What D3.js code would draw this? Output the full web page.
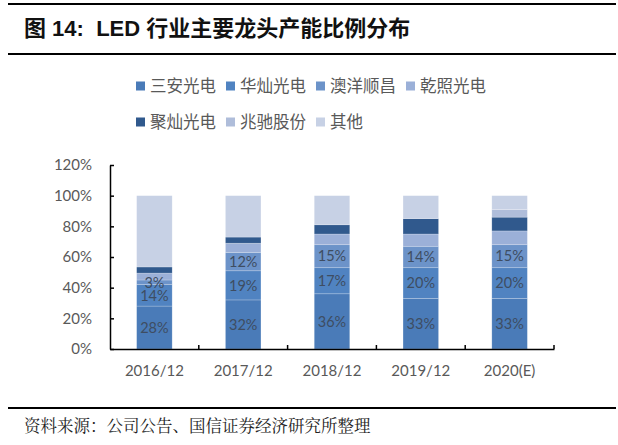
<!DOCTYPE html>
<html><head><meta charset="utf-8">
<script src="https://cdn.jsdelivr.net/npm/d3@7"></script>
<style>
html,body{margin:0;padding:0;background:#fff;}
svg{display:block;}
</style></head>
<body>
<svg id="c" width="618" height="445"></svg>
<script>
const categories = ["2016/12","2017/12","2018/12","2019/12","2020(E)"];
const seriesNames = ["三安光电","华灿光电","澳洋顺昌","乾照光电","聚灿光电","兆驰股份","其他"];
const sanan   = [28, 32, 36, 33, 33];
const huacan  = [14, 19, 17, 20, 20];
const aoyang  = [3, 12, 15, 14, 15];
const qianzhao= [4.5, 6, 7, 8, 9];
const jucan   = [4, 4, 6, 10, 9];
const zhaochi = [0, 0, 0, 0, 5];
const others  = [46.5, 27, 19, 15, 9];
const yTicks = [0, 0.2, 0.4, 0.6, 0.8, 1.0, 1.2];
const labeledSeries = [0, 1, 2];
const colors = ["#4A7BB8","#5083C1","#6C93C9","#9BB0D8","#30598D","#AFBDDA","#C7D1E5"];

const values = [sanan, huacan, aoyang, qianzhao, jucan, zhaochi, others];
const table = categories.map((c, i) => {
  const row = {cat: c};
  seriesNames.forEach((s, j) => row[s] = values[j][i] / 100);
  return row;
});
const stacked = d3.stack().keys(seriesNames)(table);

const svg = d3.select("#c");
const x = d3.scaleBand().domain(categories).range([110, 554]).paddingInner(0.6).paddingOuter(0.3);
const y = d3.scaleLinear().domain([0, 1.2]).range([349, 165]);

// Title block
svg.append("line").attr("x1", 8).attr("x2", 616).attr("y1", 4).attr("y2", 4).attr("stroke", "#000").attr("stroke-width", 2);
svg.append("text").attr("x", 24).attr("y", 36)
  .attr("font-family", "'Liberation Sans','Noto Sans CJK SC',sans-serif")
  .attr("font-weight", "bold").attr("font-size", 22).attr("fill", "#111")
  .style("white-space", "pre")
  .text("图 14:  LED 行业主要龙头产能比例分布");
svg.append("line").attr("x1", 8).attr("x2", 616).attr("y1", 54).attr("y2", 54).attr("stroke", "#000").attr("stroke-width", 2);

// Legend
const legendPos = [[136,86],[226,86],[316,86],[406,86],[136,122],[226,122],[316,122]];
seriesNames.forEach((s, i) => {
  const g = svg.append("g").attr("transform", `translate(${legendPos[i][0]},${legendPos[i][1]})`);
  g.append("rect").attr("x", 0).attr("y", -4.5).attr("width", 9).attr("height", 9).attr("fill", colors[i]);
  g.append("text").attr("x", 14).attr("y", 0).attr("dy", "0.35em")
    .attr("font-family", "'Noto Sans CJK SC',sans-serif").attr("font-size", 16.5)
    .attr("fill", "#595959").text(s);
});

// Bars
const layers = svg.append("g").selectAll("g").data(stacked).join("g").attr("fill", (d, i) => colors[i]);
layers.selectAll("rect").data(d => d).join("rect")
  .attr("x", d => x(d.data.cat))
  .attr("width", x.bandwidth())
  .attr("y", d => y(d[1]))
  .attr("height", d => y(d[0]) - y(d[1]))
  .attr("stroke", "rgba(255,255,255,0.35)").attr("stroke-width", 0.6);

// Data labels
stacked.forEach((layer, i) => {
  if (!labeledSeries.includes(i)) return;
  svg.append("g").selectAll("text").data(layer).join("text")
    .attr("x", d => x(d.data.cat) + x.bandwidth() / 2)
    .attr("y", d => y((d[0] + d[1]) / 2))
    .attr("dy", "0.36em").attr("text-anchor", "middle")
    .attr("font-family", "Lato, 'Open Sans', sans-serif").attr("font-size", 14.5)
    .attr("fill", "#3E4D62")
    .text(d => Math.round((d[1] - d[0]) * 100) + "%");
});

// Y axis
const yAxis = d3.axisLeft(y).tickValues(yTicks).tickFormat(d3.format(".0%")).tickSizeInner(-4).tickSizeOuter(0).tickPadding(18);
const yg = svg.append("g").attr("transform", "translate(110,0)").call(yAxis);
yg.select(".domain").attr("stroke", "#000").attr("stroke-width", 1.5);
yg.selectAll(".tick line").attr("stroke", "#000").attr("stroke-width", 1.5);
yg.selectAll(".tick text").attr("font-family", "Lato, 'Open Sans', sans-serif").attr("font-size", 15).attr("fill", "#595959");

// X axis
const xAxis = d3.axisBottom(x).tickSize(0).tickPadding(16);
const xg = svg.append("g").attr("transform", "translate(0,349)").call(xAxis);
xg.select(".domain").attr("stroke", "#000").attr("stroke-width", 1.5);
xg.selectAll(".tick text").attr("font-family", "Lato, 'Open Sans', sans-serif").attr("font-size", 15).attr("fill", "#595959");
const bounds = categories.map((c, i) => x.range()[0] + x.step() * (i + 1) - x.step() * 0 );
xg.selectAll("line.sep").data(categories).join("line").attr("class", "sep")
  .attr("x1", (d) => x(d) - x.step() * x.paddingInner() / 2 + x.step())
  .attr("x2", (d) => x(d) - x.step() * x.paddingInner() / 2 + x.step())
  .attr("y1", 0).attr("y2", -4).attr("stroke", "#000").attr("stroke-width", 1.5);

// Footer
svg.append("line").attr("x1", 8).attr("x2", 616).attr("y1", 408).attr("y2", 408).attr("stroke", "#000").attr("stroke-width", 2);
svg.append("text").attr("x", 24).attr("y", 432)
  .attr("font-family", "'Noto Serif CJK SC','Noto Sans CJK SC',serif").attr("font-size", 16.5)
  .attr("fill", "#222").text("资料来源：公司公告、国信证券经济研究所整理");
</script>
</body></html>
